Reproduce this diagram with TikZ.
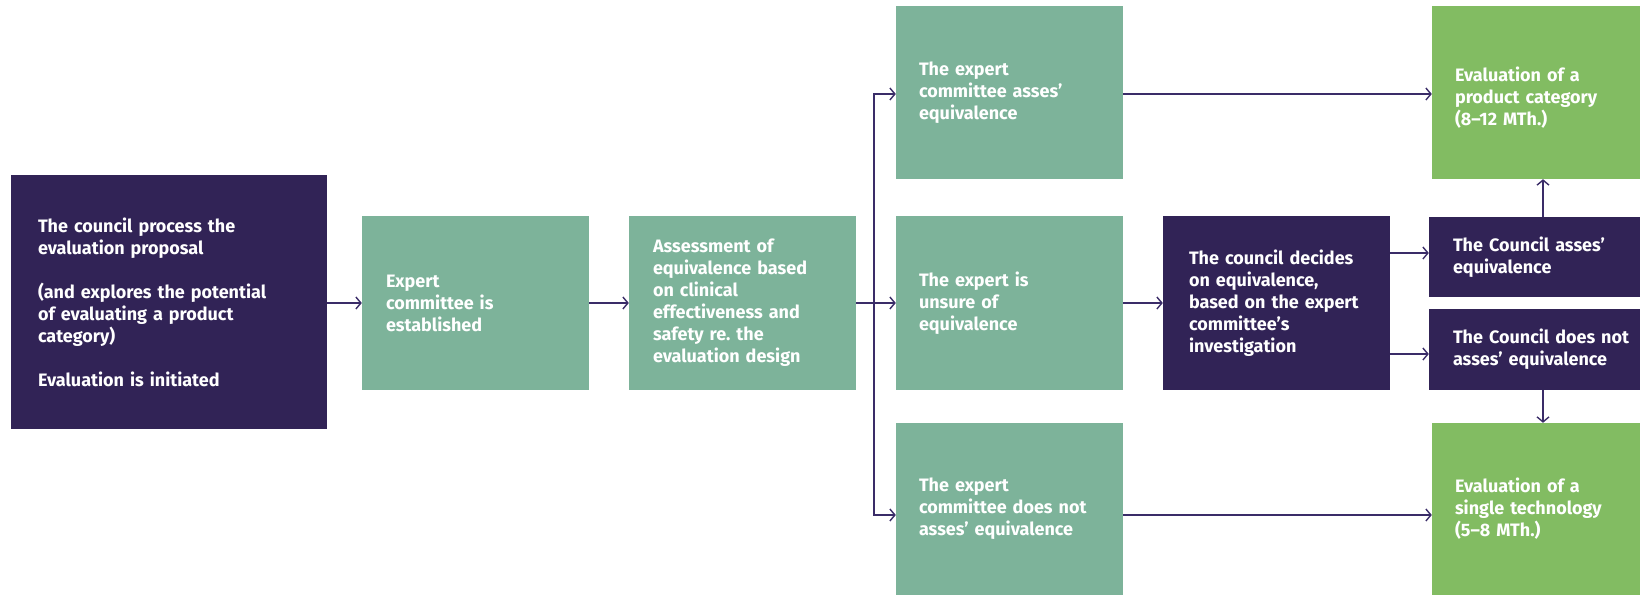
\documentclass[tikz,border=0pt]{standalone}
\usepackage{fontspec}
\setmainfont{Fira Sans}
\usetikzlibrary{arrows.meta}
\definecolor{darkp}{HTML}{312356}
\definecolor{tealg}{HTML}{7DB39A}
\definecolor{lgreen}{HTML}{82BC62}
\definecolor{arrowc}{HTML}{3A2C68}
\frenchspacing
\begin{document}
\begin{tikzpicture}[x=1pt, y=-1pt,
  font=\bfseries\fontsize{18}{22}\selectfont,
  boxbase/.style={inner xsep=24pt, inner ysep=0pt, align=left, text=white, anchor=center},
  darkbox/.style={boxbase, fill=darkp},
  tealbox/.style={boxbase, fill=tealg},
  greenbox/.style={boxbase, fill=lgreen},
  mid/.style={minimum width=227pt, minimum height=174pt, text width=179pt},
  arr/.style={draw=arrowc, line width=1.4pt, -{Straight Barb[length=5pt, width=12pt]}}]
\useasboundingbox (0,0) rectangle (1640,595);
% nodes
\node[darkbox, minimum width=316pt, minimum height=254pt, text width=262pt, inner xsep=27pt] (b1) at (169,302)
  {The council process the\\evaluation proposal\\[22pt](and explores the potential\\of evaluating a product\\category)\\[22pt]Evaluation is initiated};
\node[tealbox, mid] (b2) at (475.5,303) {Expert\\committee is\\established};
\node[tealbox, mid] (b3) at (742.5,303) {Assessment of\\\mbox{equivalence based}\\on clinical\\effectiveness and\\safety re. the\\evaluation design};
\node[tealbox, mid, minimum height=173pt, inner xsep=23pt, text width=181pt] (t1) at (1009.5,92.5) {The expert\\committee asses’\\equivalence};
\node[tealbox, mid, inner xsep=23pt, text width=181pt] (t2) at (1009.5,303) {The expert is\\unsure of\\equivalence};
\node[tealbox, mid, minimum height=172pt, inner xsep=23pt, text width=181pt] (t3) at (1009.5,509) {The expert\\\mbox{committee does not}\\asses’ equivalence};
\node[darkbox, mid, inner xsep=26pt, text width=175pt] (c) at (1276.5,303) {The council decides\\on equivalence,\\\mbox{based on the expert}\\committee’s\\investigation};
\node[greenbox, minimum width=208pt, minimum height=173pt, inner xsep=23pt, text width=162pt] (r1) at (1536,92.5) {\rule{0pt}{24pt}Evaluation of a\\\mbox{product category}\\(8–12 MTh.)};
\node[darkbox, minimum width=211pt, minimum height=80pt, text width=163pt] (ca) at (1534.5,257) {\mbox{The Council asses’}\\equivalence};
\node[darkbox, minimum width=211pt, minimum height=81pt, text width=163pt] (cn) at (1534.5,349.5) {\mbox{The Council does not}\\\mbox{asses’ equivalence}};
\node[greenbox, minimum width=208pt, minimum height=172pt, inner xsep=23pt, text width=162pt] (r2) at (1536,509) {Evaluation of a\\\mbox{single technology}\\(5–8 MTh.)};
% connectors
\draw[arr] (b1.east |- b2.west) -- (b2.west);
\draw[arr] (b2) -- (b3);
\draw[arr] (b3) -- (t2);
\coordinate (br) at (874,303);
\coordinate (t1in) at ([yshift=-1.5pt]t1.west);
\coordinate (t3in) at ([yshift=-6pt]t3.west);
\draw[arr] (br) |- (t1in);
\draw[arr] (br) |- (t3in);
\draw[arr] (t1in -| t1.east) -- (t1in -| r1.west);
\draw[arr] (t2) -- (c);
\draw[arr] (t3in -| t3.east) -- (t3in -| r2.west);
\coordinate (c1) at ([yshift=50pt]c.east);
\coordinate (c2) at ([yshift=-51pt]c.east);
\draw[arr] (c1) -- (c1 -| ca.west);
\draw[arr] (c2) -- (c2 -| cn.west);
\coordinate (up) at ([xshift=8.5pt]ca.north);
\coordinate (dn) at ([xshift=8.5pt]cn.south);
\draw[arr] (up) -- (up |- r1.south);
\draw[arr] (dn) -- (dn |- r2.north);
\end{tikzpicture}
\end{document}
